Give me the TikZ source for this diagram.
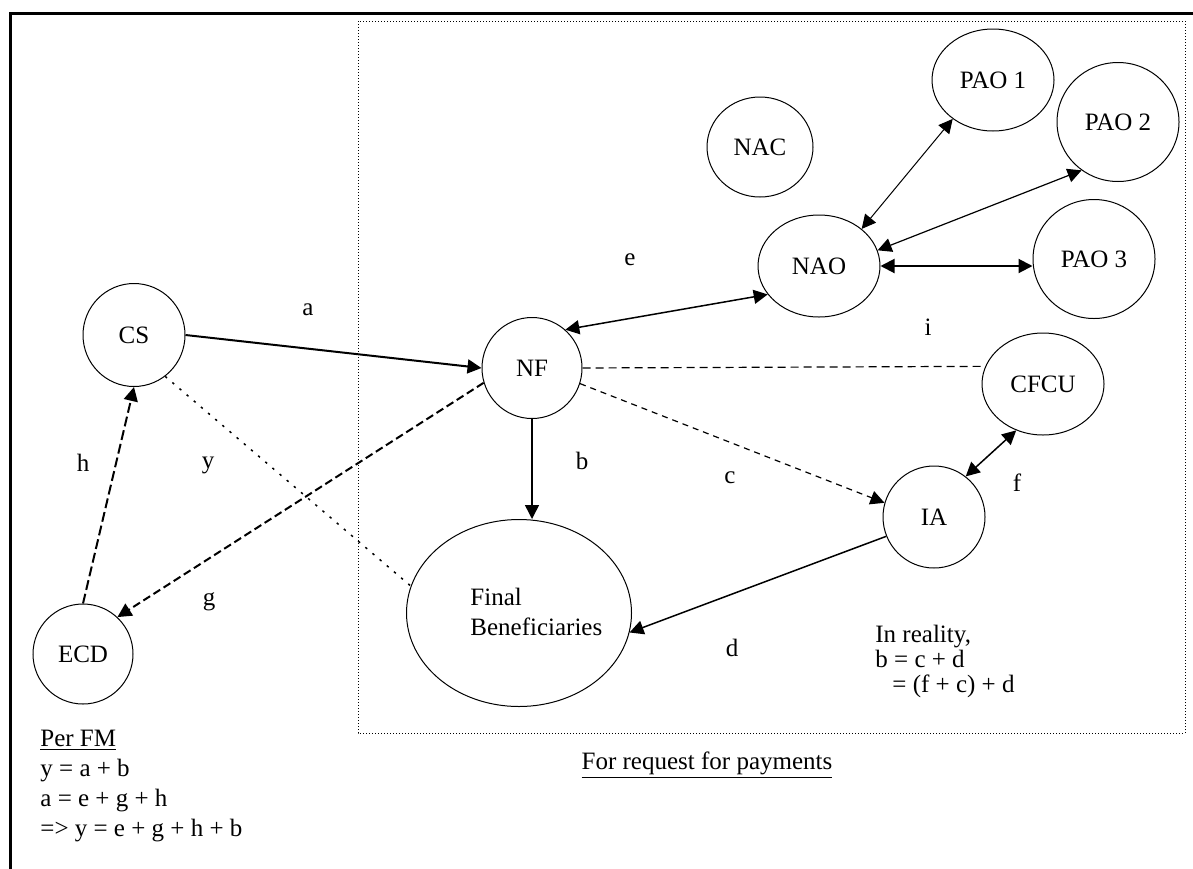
\documentclass[tikz,border=0pt]{standalone}
\usepackage{fontspec}
\setmainfont{Liberation Serif}
\usetikzlibrary{positioning,arrows.meta,shapes.geometric}

\begin{document}
\begin{tikzpicture}[x=0.5pt,y=-0.5pt,
  every node/.style={font=\fontsize{12.5}{15}\selectfont},
  party/.style={draw,ellipse,line width=0.5pt,inner sep=0pt,minimum width=61pt,minimum height=51pt},
  lbl/.style={inner sep=0pt},
  arr/.style={-{Triangle[length=7pt,width=7pt]},line width=0.75pt},
  dbl/.style={{Triangle[length=7pt,width=7pt]}-{Triangle[length=7pt,width=7pt]},line width=0.6pt}]
\clip (0,0) rectangle (1193,868);
% frame and request area
\draw[line width=1.5pt] (10,890) -- (10,13) -- (1210,13);
\draw[densely dotted,line width=0.5pt] (358,21) rectangle (1185,733);

% parties
\node[party,minimum width=51pt,minimum height=51.5pt] (cs) at (134,335) {CS};
\node[party,minimum width=50pt,minimum height=50pt] (ecd) at (83,654) {ECD};
\node[party,minimum width=50pt,minimum height=50.5pt] (nf) at (532,368) {NF};
\node[party,minimum width=53pt,minimum height=50pt] (nac) at (760,147) {NAC};
\node[party] (nao) at (819,266) {NAO};
\node[party] (pao1) at (993,80) {PAO 1};
\node[party,minimum height=59.5pt] (pao2) at (1118,122) {PAO 2};
\node[party,minimum height=59.5pt] (pao3) at (1094,259) {PAO 3};
\node[party] (cfcu) at (1043,384) {CFCU};
\node[party,minimum width=51pt,minimum height=51pt] (ia) at (934,517) {IA};
\node[party,minimum width=112.5pt,minimum height=93.5pt] (fb) at (519,613) {};
\node[align=left,anchor=west,inner sep=0pt] (fbtext) at (470,612) {Final\\Beneficiaries};

% flows
\draw[arr,line width=1pt] (cs.east) -- (nf.west);
\draw[arr,line width=1pt,dash pattern=on 5pt off 2pt] (ecd.north) -- (cs.south);
\draw[arr,line width=1pt,dash pattern=on 4pt off 2pt] (nf.197) -- (ecd.47);
\draw[line width=0.75pt,dash pattern=on 1.2pt off 3.5pt] (cs.-53) -- (fb.166);
\draw[dbl,line width=0.75pt] (nf.49) -- (nao.209);
\draw[line width=0.6pt,dash pattern=on 4pt off 2.5pt] (nf.east) -- (cfcu.163);
\draw[arr,line width=0.6pt,dash pattern=on 3pt off 2.5pt] (nf.-18) -- (ia.164);
\draw[arr] (nf.south) -- (nf.south |- fb.north);
\draw[arr] (ia.202) -- (fb.-10);
\draw[dbl,line width=0.75pt] (ia.52) -- (cfcu.240);
\draw[dbl,line width=0.5pt] (nao.41) -- (pao1.224);
\draw[dbl] (nao.15) -- (pao2.233);
\draw[dbl,line width=1pt] (nao.east) -- (nao.east -| pao3.west);

% labels
\node[lbl] (la) at (308,310) {a};
\node[lbl] (lh) at (83,463) {h};
\node[lbl] (ly) at (208,465) {y};
\node[lbl] (lg) at (209,602) {g};
\node[lbl] (le) at (630,260) {e};
\node[lbl] (lb) at (582,461) {b};
\node[lbl] (lc) at (730,478) {c};
\node[lbl] (ld) at (732,648) {d};
\node[lbl] (li) at (928,327) {i};
\node[lbl] (lf) at (1017,483) {f};

% notes
\node[align=left,anchor=north west,inner sep=0pt] (perfm) at (40,730)
  {\underline{Per FM}\\y = a + b\\a = e + g + h\\=> y = e + g + h + b};
\node[align=left,anchor=north west,inner sep=0pt,font=\fontsize{12.5}{12.5}\selectfont] (reality) at (875,625)
  {In reality,\\b = c + d\\\hspace*{8.5pt}= (f + c) + d};
\node[inner sep=0pt] (request) at (707,765) {\underline{For request for payments}};
\end{tikzpicture}
\end{document}
